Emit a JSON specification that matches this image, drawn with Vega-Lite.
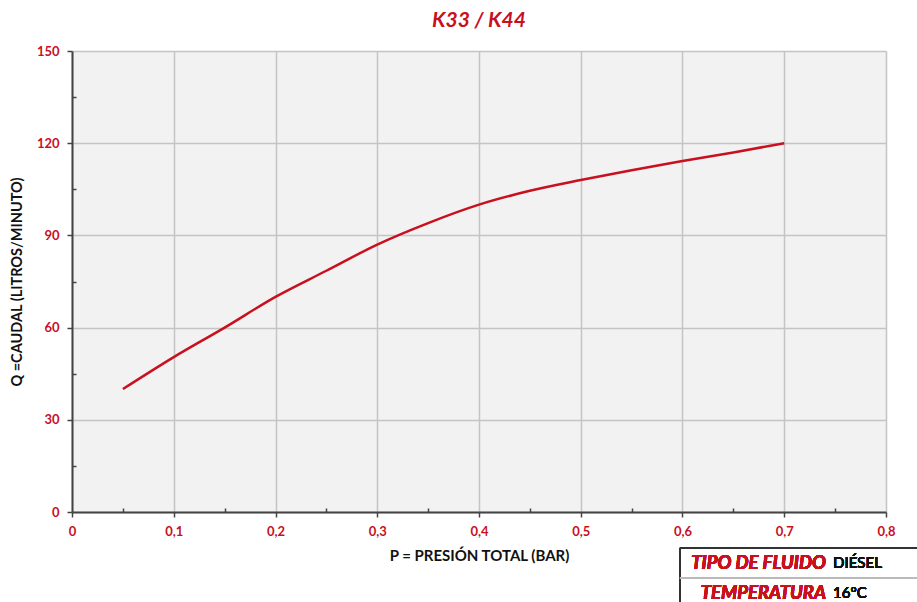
{
  "$schema": "https://vega.github.io/schema/vega-lite/v6.json",
  "width": 814,
  "height": 461,
  "autosize": {"type": "none"},
  "padding": {"left": 72, "top": 51, "right": 31, "bottom": 90},
  "background": "white",
  "view": {"fill": "#f2f2f2", "stroke": null},
  "config": {"font": "Lato"},
  "title": {
    "text": "K33 / K44",
    "font": "Lato",
    "fontSize": 21,
    "fontWeight": "bold",
    "fontStyle": "italic",
    "color": "#c8101e",
    "anchor": "middle",
    "offset": 14
  },
  "data": {
    "values": [
      {"p": 0.05, "q": 40},
      {"p": 0.1, "q": 50.4},
      {"p": 0.15, "q": 60},
      {"p": 0.2, "q": 70},
      {"p": 0.25, "q": 78.5},
      {"p": 0.3, "q": 87},
      {"p": 0.35, "q": 94},
      {"p": 0.4, "q": 100},
      {"p": 0.45, "q": 104.5},
      {"p": 0.5, "q": 108},
      {"p": 0.55, "q": 111.2},
      {"p": 0.6, "q": 114.2},
      {"p": 0.65, "q": 117},
      {"p": 0.7, "q": 120}
    ]
  },
  "layer": [
    {
      "mark": {"type": "line", "color": "#c8101e", "strokeWidth": 2.5, "interpolate": "monotone"},
      "encoding": {
        "x": {
          "field": "p",
          "type": "quantitative",
          "scale": {"domain": [0, 0.8], "nice": false, "zero": false},
          "axis": {
            "title": "P = PRESIÓN TOTAL (BAR)",
            "titleFontSize": 15,
            "titleFontWeight": "bold",
            "titleColor": "#111",
            "titlePadding": 10,
            "values": [0, 0.05, 0.1, 0.15, 0.2, 0.25, 0.3, 0.35, 0.4, 0.45, 0.5, 0.55, 0.6, 0.65, 0.7, 0.75, 0.8],
            "labelExpr": "abs(datum.value*10 - round(datum.value*10)) > 0.01 ? '' : (datum.value == 0 ? '0' : replace(format(datum.value, '.1f'), '.', ','))",
            "labelColor": "#c8101e",
            "labelFontSize": 13,
            "labelFontWeight": "bold",
            "labelPadding": 8,
            "labelFlush": false,
            "domainColor": "#444",
            "domainWidth": 2,
            "tickColor": "#444",
            "tickWidth": 1.5,
            "tickSize": {"expr": "abs(datum.value*10 - round(datum.value*10)) > 0.01 ? -4 : 5"},
            "grid": true,
            "gridColor": "#c4c4c4",
            "gridWidth": 1.5,
            "gridOpacity": {"expr": "abs(datum.value*10 - round(datum.value*10)) > 0.01 ? 0 : 1"}
          }
        },
        "y": {
          "field": "q",
          "type": "quantitative",
          "scale": {"domain": [0, 150], "nice": false},
          "axis": {
            "title": "Q =CAUDAL (LITROS/MINUTO)",
            "titleFontSize": 14.5,
            "titleFontWeight": "bold",
            "titleColor": "#111",
            "titlePadding": 12,
            "values": [0, 15, 30, 45, 60, 75, 90, 105, 120, 135, 150],
            "labelExpr": "datum.value % 30 == 0 ? datum.label : ''",
            "labelColor": "#c8101e",
            "labelFontSize": 13,
            "labelFontWeight": "bold",
            "labelPadding": 8,
            "labelFlush": false,
            "domainColor": "#444",
            "domainWidth": 2,
            "tickColor": "#444",
            "tickWidth": 1.5,
            "tickSize": {"expr": "datum.value % 30 == 0 ? 5 : -4"},
            "grid": true,
            "gridColor": "#c4c4c4",
            "gridWidth": 1.5,
            "gridOpacity": {"expr": "datum.value % 30 == 0 ? 1 : 0"}
          }
        }
      }
    },
    {
      "mark": {"type": "rule", "color": "#333", "strokeWidth": 1.5},
      "encoding": {"x": {"datum": 0.5975}, "x2": {"datum": 0.835}, "y": {"datum": -11.7}}
    },
    {
      "mark": {"type": "rule", "color": "#333", "strokeWidth": 1.5},
      "encoding": {"x": {"datum": 0.5975}, "y": {"datum": -11.7}, "y2": {"datum": -30}}
    },
    {
      "mark": {"type": "rule", "color": "#bbb", "strokeWidth": 1},
      "encoding": {"x": {"datum": 0.5975}, "x2": {"datum": 0.835}, "y": {"datum": -21.5}}
    },
    {
      "mark": {"type": "text", "align": "right", "baseline": "middle", "fontSize": 18.5, "fontWeight": "bold", "fontStyle": "italic", "color": "#c8101e", "strokeOpacity": 0},
      "encoding": {"x": {"datum": 0.741}, "y": {"datum": -16.6}, "text": {"value": "TIPO DE FLUIDO"}}
    },
    {
      "mark": {"type": "text", "align": "right", "baseline": "middle", "fontSize": 18.5, "fontWeight": "bold", "fontStyle": "italic", "color": "#c8101e", "strokeOpacity": 0},
      "encoding": {"x": {"datum": 0.741}, "y": {"datum": -26.2}, "text": {"value": "TEMPERATURA"}}
    },
    {
      "mark": {"type": "text", "align": "left", "baseline": "middle", "fontSize": 15, "fontWeight": "normal", "color": "#111", "strokeOpacity": 0},
      "encoding": {"x": {"datum": 0.748}, "y": {"datum": -16.6}, "text": {"value": "DIÉSEL"}}
    },
    {
      "mark": {"type": "text", "align": "left", "baseline": "middle", "fontSize": 15, "fontWeight": "normal", "color": "#111", "strokeOpacity": 0},
      "encoding": {"x": {"datum": 0.748}, "y": {"datum": -26.2}, "text": {"value": "16°C"}}
    }
  ]
}
